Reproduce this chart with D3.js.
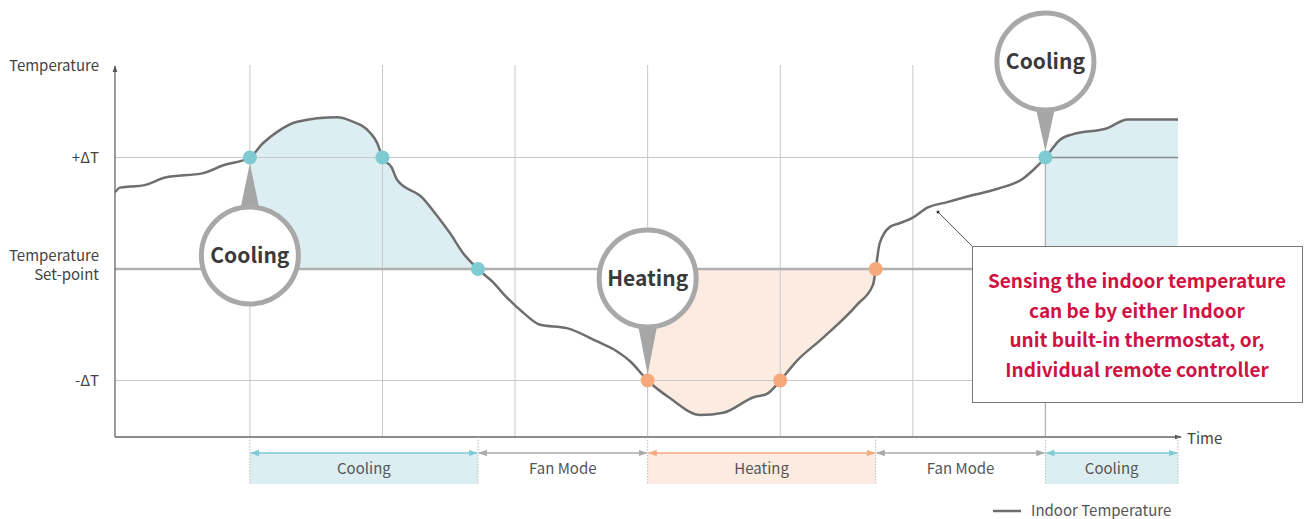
<!DOCTYPE html>
<html>
<head>
<meta charset="utf-8">
<script src="https://cdn.jsdelivr.net/npm/d3@7"></script>
<style>
  body { margin: 0; background: #fff; }
  svg { display: block; font-family: "Noto Sans CJK JP", "Noto Sans", sans-serif; }
</style>
</head>
<body>
<svg width="1306" height="519"></svg>
<script>
// Indoor temperature readings (time in grid steps, temp in ΔT units)
var timeVals = [-0.015, 0.02, 0.10, 0.196, 0.362, 0.648, 0.80, 1.0, 1.10, 1.206, 1.357, 1.659, 1.757, 1.908, 1.96, 2.0,
  2.07, 2.11, 2.30, 2.41, 2.51, 2.61, 2.72, 2.835, 2.91, 3.06, 3.19, 3.39, 3.62, 3.77, 3.87, 4.0,
  4.17, 4.40, 4.57, 4.80, 4.90, 5.0, 5.12, 5.32, 5.58, 5.70, 5.72, 5.75, 5.83, 5.90, 6.0,
  6.11, 6.26, 6.41, 6.64, 6.83, 6.91, 7.0, 7.11, 7.21, 7.46, 7.62, 8.0];
var tempVals = [0.69, 0.73, 0.74, 0.75, 0.82, 0.86, 0.93, 1.0, 1.13, 1.23, 1.32, 1.36, 1.33, 1.22, 1.13, 1.0,
  0.91, 0.80, 0.64, 0.48, 0.32, 0.14, 0, -0.12, -0.22, -0.39, -0.50, -0.53, -0.65, -0.74, -0.83, -1.0,
  -1.16, -1.31, -1.29, -1.15, -1.12, -1.0, -0.83, -0.62, -0.32, -0.14, 0, 0.23, 0.38, 0.41, 0.46,
  0.55, 0.60, 0.65, 0.72, 0.81, 0.89, 1.0, 1.16, 1.21, 1.26, 1.34, 1.34];

var gridTimes = [1, 2, 3, 4, 5, 6, 7];
var levelVals = [1, 0, -1];
var levelLabels = [["+ΔT"], ["Temperature", "Set-point"], ["-ΔT"]];

var modeNames = ["Cooling", "Fan Mode", "Heating", "Fan Mode", "Cooling"];
var modeStart = [1, 2.72, 4, 5.72, 7];
var modeEnd = [2.72, 4, 5.72, 7, 8];
var modeKind = ["cool", "fan", "heat", "fan", "cool"];

// shaded zones between curve and set-point
var zoneStart = [1, 4, 7];
var zoneEnd = [2.72, 5.72, 8];
var zoneKind = ["cool", "heat", "cool"];

// switching points
var switchT = [1, 2, 2.72, 4, 5, 5.72, 7];
var switchV = [1, 1, 0, -1, -1, 0, 1];
var switchKind = ["cool", "cool", "cool", "heat", "heat", "heat", "cool"];

var calloutLabels = ["Cooling", "Heating", "Cooling"];
var calloutT = [1, 4, 7];
var calloutV = [1, -1, 1];
var calloutDy = [98, -102, -96]; // bubble centre offset from its point

var noteLines = ["Sensing the indoor temperature", "can be by either Indoor",
  "unit built-in thermostat, or,", "Individual remote controller"];

var svg = d3.select("svg");
var colors = {
  cool: { fill: "#ddeef2", line: "#7ecbd3", dot: "#7ecbd3" },
  heat: { fill: "#fcebe1", line: "#f6a97c", dot: "#f6a97c" },
  fan: { fill: "#ffffff", line: "#aaaaaa" }
};

var x = d3.scaleLinear().domain([0, 8]).range([117.3, 1178]);
var y = d3.scaleLinear().domain([-1, 1]).range([380.5, 157.5]);
var axisY = 437, topY = 65;

var pts = timeVals.map(function (t, i) { return { t: t, v: tempVals[i] }; });

// filled zones
var area = d3.area()
  .x(function (d) { return x(d.t); })
  .y0(y(0))
  .y1(function (d) { return y(d.v); })
  .curve(d3.curveMonotoneX);
zoneStart.forEach(function (s, i) {
  var seg = pts.filter(function (d) { return d.t >= s - 1e-9 && d.t <= zoneEnd[i] + 1e-9; });
  svg.append("path").attr("d", area(seg)).attr("fill", colors[zoneKind[i]].fill);
});

// vertical grid
svg.append("g").selectAll("line").data(gridTimes).enter().append("line")
  .attr("x1", function (d) { return x(d); }).attr("x2", function (d) { return x(d); })
  .attr("y1", topY).attr("y2", axisY)
  .attr("stroke", "#c8c8c8").attr("stroke-width", 1);

// horizontal levels
svg.append("g").selectAll("line").data(levelVals).enter().append("line")
  .attr("x1", 115).attr("x2", x(8))
  .attr("y1", function (d) { return y(d); }).attr("y2", function (d) { return y(d); })
  .attr("stroke", function (d) { return d === 0 ? "#b0b0b0" : "#c8c8c8"; })
  .attr("stroke-width", function (d) { return d === 0 ? 2.5 : 1.2; });
// darker +ΔT piece inside last cooling zone
svg.append("line").attr("x1", x(7)).attr("x2", x(8)).attr("y1", y(1)).attr("y2", y(1))
  .attr("stroke", "#8a8a8a").attr("stroke-width", 1.5);
svg.append("line").attr("x1", x(7)).attr("x2", x(7)).attr("y1", y(1)).attr("y2", axisY)
  .attr("stroke", "#b0b0b0").attr("stroke-width", 1.2);

// level labels
levelVals.forEach(function (v, i) {
  var lines = levelLabels[i];
  var t = svg.append("text").attr("x", 99).attr("text-anchor", "end")
    .attr("font-size", 15).attr("fill", "#444");
  lines.forEach(function (l, j) {
    t.append("tspan").attr("x", 99)
      .attr("y", lines.length > 1 ? y(v) - 8.5 + j * 19 : y(v) + 5).text(l);
  });
});

// axes
var defs = svg.append("defs");
function marker(id, col, w) {
  defs.append("marker").attr("id", id).attr("viewBox", "0 0 10 10")
    .attr("refX", 9).attr("refY", 5).attr("markerWidth", w).attr("markerHeight", w)
    .attr("orient", "auto-start-reverse").attr("markerUnits", "userSpaceOnUse")
    .append("path").attr("d", "M0,1.5 L10,5 L0,8.5 Z").attr("fill", col);
}
marker("ax", "#555", 7);
marker("m-cool", colors.cool.line, 9);
marker("m-heat", colors.heat.line, 9);
marker("m-fan", colors.fan.line, 9);

svg.append("line").attr("x1", 115).attr("x2", 115).attr("y1", axisY).attr("y2", 66)
  .attr("stroke", "#666").attr("stroke-width", 1.3).attr("marker-end", "url(#ax)");
svg.append("line").attr("x1", 115).attr("x2", 1181).attr("y1", axisY).attr("y2", axisY)
  .attr("stroke", "#666").attr("stroke-width", 1.3).attr("marker-end", "url(#ax)");
svg.append("text").attr("x", 9).attr("y", 71).attr("font-size", 15).attr("fill", "#444").text("Temperature");
svg.append("text").attr("x", 1187).attr("y", 444).attr("font-size", 15).attr("fill", "#444").text("Time");

// curve
var line = d3.line()
  .x(function (d) { return x(d.t); })
  .y(function (d) { return y(d.v); })
  .curve(d3.curveMonotoneX);
svg.append("path").attr("d", line(pts)).attr("fill", "none")
  .attr("stroke", "#6e6e6e").attr("stroke-width", 2.5).attr("stroke-linejoin", "round");

// switching dots
svg.append("g").selectAll("circle").data(switchT).enter().append("circle")
  .attr("cx", function (d) { return x(d); })
  .attr("cy", function (d, i) { return y(switchV[i]); })
  .attr("r", 7)
  .attr("fill", function (d, i) { return colors[switchKind[i]].dot; });

// callout bubbles
calloutLabels.forEach(function (lab, i) {
  var px = x(calloutT[i]), py = y(calloutV[i]);
  var dir = calloutDy[i] > 0 ? 1 : -1;
  var r = 48.5;
  var cy = py + calloutDy[i];
  var tipY = py + dir * 6;
  var baseY = cy - dir * (r - 4);
  var g = svg.append("g");
  g.append("path")
    .attr("d", "M" + px + "," + tipY + " L" + (px - 10) + "," + baseY + " L" + (px + 10) + "," + baseY + " Z")
    .attr("fill", "#a6a6a6");
  g.append("circle").attr("cx", px).attr("cy", cy).attr("r", r)
    .attr("fill", "#fff").attr("stroke", "#a8a8a8").attr("stroke-width", 5);
  g.append("text").attr("x", px).attr("y", cy + 7.5).attr("text-anchor", "middle")
    .attr("font-size", 21).attr("font-weight", "bold").attr("fill", "#3a3a3a").text(lab);
});

// mode strip
var stripTop = 453, stripBot = 484;
modeNames.forEach(function (name, i) {
  var x0 = x(modeStart[i]), x1 = x(modeEnd[i]), c = colors[modeKind[i]];
  svg.append("rect").attr("x", x0).attr("y", stripTop).attr("width", x1 - x0)
    .attr("height", stripBot - stripTop).attr("fill", c.fill);
  svg.append("line").attr("x1", x0 + 1).attr("x2", x1 - 1).attr("y1", stripTop).attr("y2", stripTop)
    .attr("stroke", c.line).attr("stroke-width", 1.3)
    .attr("marker-start", "url(#m-" + modeKind[i] + ")")
    .attr("marker-end", "url(#m-" + modeKind[i] + ")");
  svg.append("text").attr("x", (x0 + x1) / 2).attr("y", 474).attr("text-anchor", "middle")
    .attr("font-size", 15).attr("fill", "#555").text(name);
});
svg.append("g").selectAll("line").data(modeStart.concat([8])).enter().append("line")
  .attr("x1", function (d) { return x(d); }).attr("x2", function (d) { return x(d); })
  .attr("y1", axisY).attr("y2", stripBot)
  .attr("stroke", "#bbb").attr("stroke-width", 1).attr("stroke-dasharray", "1.5,1.5");

// note box with leader
svg.append("line").attr("x1", 938).attr("y1", 212).attr("x2", 972).attr("y2", 246)
  .attr("stroke", "#333").attr("stroke-width", 0.8);
svg.append("circle").attr("cx", 938).attr("cy", 212).attr("r", 1.5).attr("fill", "#333");
svg.append("rect").attr("x", 972.5).attr("y", 246.5).attr("width", 330).attr("height", 156)
  .attr("fill", "#fff").attr("stroke", "#777").attr("stroke-width", 1);
noteLines.forEach(function (l, i) {
  svg.append("text").attr("x", 1137).attr("y", 288 + i * 29.5).attr("text-anchor", "middle")
    .attr("font-size", 19).attr("font-weight", "bold").attr("fill", "#cf1241").text(l);
});

// legend
svg.append("line").attr("x1", 993).attr("x2", 1021).attr("y1", 511).attr("y2", 511)
  .attr("stroke", "#6e6e6e").attr("stroke-width", 2.5);
svg.append("text").attr("x", 1031).attr("y", 516).attr("font-size", 15).attr("fill", "#555")
  .text("Indoor Temperature");
</script>
</body>
</html>
